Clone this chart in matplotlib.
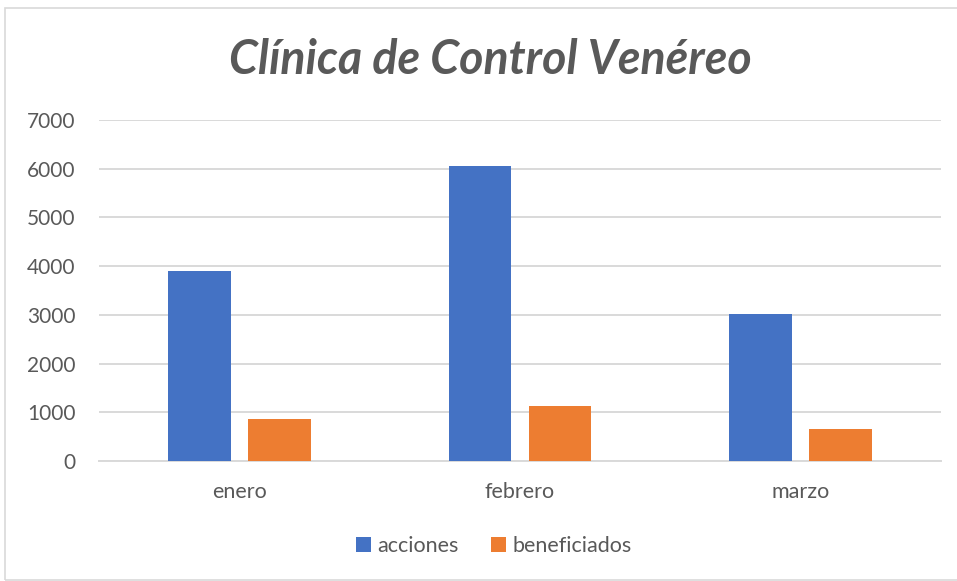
import numpy as np
import matplotlib.pyplot as plt
from matplotlib.patches import Rectangle

months = ["enero", "febrero", "marzo"]
acciones = [3895, 6050, 3025]
beneficiados = [862, 1135, 658]
series_names = ["acciones", "beneficiados"]
yticks = [0, 1000, 2000, 3000, 4000, 5000, 6000, 7000]

blue = "#4472C4"
orange = "#ED7D31"
txt = "#595959"
grid = "#D9D9D9"

plt.rcParams['font.family'] = ['Lato', 'DejaVu Sans']

fig = plt.figure(figsize=(9.57, 5.81), dpi=100)
W, H = 957, 581
ax = fig.add_axes([99 / W, 120 / H, 842 / W, 341 / H])

# outer chart border
fig.patches.append(Rectangle((5 / W, 0.002), 1.2, (H - 9) / H, transform=fig.transFigure,
                             fill=False, edgecolor=grid, linewidth=1.2))

x = np.arange(len(months))
w = 0.224
off = 0.1425
ax.bar(x - off, acciones, w, color=blue, label=series_names[0], zorder=3)
ax.bar(x + off, beneficiados, w, color=orange, label=series_names[1], zorder=3)

ax.set_xlim(-0.5, len(months) - 0.5)
ax.set_ylim(0, 7000)
ax.set_yticks(yticks)
ax.set_yticklabels([str(v) for v in yticks], fontsize=15, color=txt)
ax.set_xticks(x)
ax.set_xticklabels(months, fontsize=15.5, color=txt)
ax.tick_params(length=0)
ax.tick_params(axis='y', pad=17)
ax.tick_params(axis='x', pad=15)
ax.grid(axis='y', color=grid, linewidth=1.4, zorder=0)
for s in ['top', 'right', 'left']:
    ax.spines[s].set_visible(False)
ax.spines['bottom'].set_color(grid)
ax.spines['bottom'].set_linewidth(1.4)

fig.text(490 / W, 1 - 60 / H, "Clínica de Control Venéreo", ha='center', va='center',
         fontsize=33.5, style='italic', weight='bold', color=txt)

ax.legend(loc='center', bbox_to_anchor=(494 / W, 1 - 546 / H), bbox_transform=fig.transFigure,
          ncol=2, frameon=False, fontsize=15.5, labelcolor=txt, handlelength=0.7, handleheight=0.7,
          handletextpad=0.3, columnspacing=1.5)

fig.savefig("out.png", dpi=100)
